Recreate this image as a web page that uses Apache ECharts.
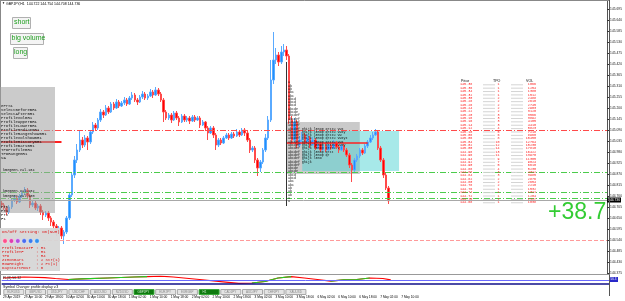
<!DOCTYPE html>
<html>
<head>
<meta charset="utf-8">
<script src="https://cdn.jsdelivr.net/npm/echarts@6/dist/echarts.min.js"></script>
<style>html,body{margin:0;padding:0;background:#fff}#chart{width:625px;height:301px}</style>
</head>
<body>
<div id="chart"></div>
<script>
// GBPJPY H1 chart with market profile objects
let chart = echarts.init(document.getElementById('chart'));

// [open, close, low, high]
const candles = [
  [144.725,144.715,144.700,144.735],[144.715,144.700,144.690,144.725],[144.700,144.680,144.665,144.710],[144.680,144.705,144.670,144.715],
  [144.705,144.740,144.695,144.750],[144.740,144.750,144.730,144.765],[144.750,144.730,144.720,144.760],[144.730,144.760,144.725,144.770],
  [144.760,144.775,144.750,144.785],[144.775,144.790,144.765,144.805],[144.790,144.760,144.750,144.800],[144.760,144.715,144.700,144.770],
  [144.715,144.725,144.705,144.740],[144.725,144.700,144.690,144.735],[144.700,144.710,144.685,144.720],[144.710,144.680,144.665,144.720],
  [144.680,144.665,144.640,144.690],[144.665,144.675,144.655,144.685],[144.675,144.650,144.635,144.685],[144.650,144.630,144.610,144.660],
  [144.630,144.610,144.595,144.640],[144.610,144.590,144.560,144.620],[144.590,144.600,144.575,144.610],[144.600,144.560,144.545,144.610],
  [144.560,144.580,144.520,144.590],[144.580,144.650,144.570,144.660],[144.650,144.765,144.640,144.780],[144.765,144.865,144.755,144.880],
  [144.865,144.940,144.850,144.960],[144.940,144.990,144.925,145.020],[144.990,145.040,144.980,145.090],[145.040,145.015,145.000,145.055],
  [145.015,145.050,145.005,145.065],[145.050,145.030,144.990,145.060],[145.030,145.080,145.020,145.090],[145.080,145.115,145.070,145.130],
  [145.115,145.100,145.085,145.125],[145.100,145.140,145.090,145.150],[145.140,145.180,145.130,145.195],[145.180,145.165,145.150,145.190],
  [145.165,145.200,145.160,145.215],[145.200,145.180,145.170,145.210],[145.180,145.220,145.175,145.230],[145.220,145.200,145.190,145.230],
  [145.200,145.230,145.195,145.245],[145.230,145.210,145.200,145.240],[145.210,145.225,145.205,145.235],[145.225,145.240,145.215,145.255],
  [145.240,145.220,145.210,145.250],[145.220,145.250,145.215,145.260],[145.250,145.265,145.240,145.280],[145.265,145.240,145.230,145.275],
  [145.240,145.230,145.215,145.250],[145.230,145.255,145.225,145.265],[145.255,145.270,145.245,145.285],[145.270,145.250,145.240,145.280],
  [145.250,145.260,145.240,145.270],[145.260,145.280,145.255,145.295],[145.280,145.265,145.250,145.290],[145.265,145.290,145.260,145.305],
  [145.290,145.270,145.260,145.300],[145.270,145.240,145.230,145.280],[145.240,145.180,145.130,145.250],[145.180,145.150,145.140,145.190],
  [145.150,145.165,145.140,145.175],[145.165,145.140,145.125,145.175],[145.140,145.175,145.135,145.185],[145.175,145.150,145.140,145.185],
  [145.150,145.130,145.110,145.160],[145.130,145.160,145.125,145.170],[145.160,145.140,145.130,145.170],[145.140,145.150,145.130,145.160],
  [145.150,145.135,145.120,145.160],[145.135,145.155,145.130,145.165],[145.155,145.140,145.130,145.165],[145.140,145.150,145.135,145.160],
  [145.150,145.115,145.100,145.160],[145.115,145.130,145.110,145.140],[145.130,145.100,145.085,145.135],[145.100,145.075,145.040,145.110],
  [145.075,145.100,145.070,145.110],[145.100,145.065,145.050,145.110],[145.065,145.015,144.990,145.075],[145.015,145.040,145.005,145.050],
  [145.040,145.025,145.015,145.050],[145.025,145.050,145.020,145.060],[145.050,145.065,145.045,145.075],[145.065,145.050,145.040,145.075],
  [145.050,145.070,145.045,145.080],[145.070,145.060,145.050,145.080],[145.060,145.080,145.055,145.095],[145.080,145.065,145.055,145.090],
  [145.065,145.090,145.060,145.100],[145.090,145.075,145.060,145.100],[145.075,145.040,145.030,145.085],[145.040,144.990,144.975,145.050],
  [144.990,145.000,144.980,145.010],[145.000,144.940,144.925,145.010],[144.940,144.900,144.860,144.950],[144.900,144.930,144.880,144.940],
  [144.930,144.990,144.920,145.000],[144.990,145.050,144.980,145.070],[145.050,145.140,145.040,145.160],[145.140,145.340,145.130,145.440],
  [145.340,145.440,145.320,145.580],[145.440,145.465,145.420,145.500],[145.465,145.430,145.410,145.480],[145.430,145.480,145.420,145.510],
  [145.480,145.490,145.460,145.520],[145.490,145.460,145.440,145.510],[145.460,145.140,145.120,145.470],[145.140,145.040,145.020,145.160],
  [145.040,145.130,145.030,145.150],[145.130,145.015,145.000,145.140],[145.015,145.040,145.005,145.060],[145.040,145.065,145.030,145.080],
  [145.065,145.030,145.020,145.075],[145.030,145.050,145.020,145.070],[145.050,145.015,145.000,145.060],[145.015,145.040,145.010,145.055],
  [145.040,145.000,144.990,145.050],[145.000,145.020,144.995,145.035],[145.020,144.990,144.980,145.030],[144.990,145.010,144.985,145.020],
  [145.010,144.990,144.980,145.025],[144.990,145.015,144.985,145.025],[145.015,145.000,144.990,145.025],[145.000,145.025,144.995,145.040],
  [145.025,145.005,144.995,145.035],[145.005,144.990,144.975,145.015],[144.990,145.010,144.985,145.020],[145.010,144.990,144.980,145.020],
  [144.990,144.965,144.955,145.000],[144.965,144.915,144.900,144.975],[144.915,144.890,144.830,144.925],[144.890,144.940,144.880,144.950],
  [144.940,144.960,144.930,144.970],[144.960,144.990,144.950,145.000],[144.990,144.975,144.965,145.000],[144.975,145.010,144.970,145.020],
  [145.010,145.030,145.000,145.040],[145.030,145.050,145.025,145.065],[145.050,145.065,145.040,145.080],[145.065,145.080,145.060,145.095],
  [145.080,145.000,144.990,145.090],[145.000,144.940,144.930,145.010],[144.940,144.865,144.850,144.950],[144.865,144.800,144.790,144.875],
  [144.800,144.736,144.720,144.810]
];

const timeLabels = ['29 Apr 2019','29 Apr 10:00','29 Apr 18:00','30 Apr 02:00','30 Apr 10:00','30 Apr 18:00',
  '1 May 02:00','1 May 10:00','1 May 18:00','2 May 02:00','2 May 10:00','2 May 18:00','3 May 02:00','3 May 10:00',
  '3 May 18:00','6 May 02:00','6 May 10:00','6 May 18:00','7 May 02:00','7 May 10:00'];
const barSlots = 232; // visible bar slots incl. right shift

const redLevel = 145.095;
const greenLevels = [144.875, 144.775, 144.745];
const pinkLevel = 144.540;
const bidPrice = 144.736;
const pocLeft = 145.030;
const pocProfile = 145.025;
const grayBox = [[109, 145.130], [137, 144.870]];
const cyanBox = [[115, 145.085], [152, 144.885]];

// oscillator sub-window
const oscBars = [0,8,16,20,25,30,40,50,55,60,65,75,85,90,95,100,105,110,115,120,125,130,135,140,145,148];
const oscMain = [78,89,83,72,61,67,78,89,94,98,89,61,33,17,22,39,78,94,78,61,44,56,61,78,72,56];
const oscRising = [null,null,null,null,61,67,78,89,94,null,null,null,null,null,22,39,78,94,null,null,44,56,61,78,null,null];
const oscLevels = [55, 15];

// right side profile table
const tablePrices = ['145.38','145.36','145.34','145.32','145.30','145.28','145.26','145.24','145.22','145.20','145.18','145.16',
  '145.14','145.12','145.10','145.08','145.06','145.04','145.02','145.00','144.98','144.96','144.94','144.92',
  '144.90','144.88','144.86','144.84','144.82','144.80','144.78','144.76','144.74','144.72','144.70','144.68'];
const tableTpo = ['1','1','1','1','2','2','2','2','2','3','3','3','3','4','5','6','8','10','12','14','13','11','9','7',
  '5','4','3','3','2','2','2','1','1','1','1','1'];
const tableVol = ['1066','1254','1380','1512','2488','2610','2745','2903','3120','3566','3892','4105','4410','5823','7210','8960',
  '10450','12764','15230','17810','16422','13970','11305','9024','6610','5230','4312','3985','2876','2654','2210','1532',
  '1311','1204','1127','1038'];

const leftNotes = ['ePrS1','SelectBeforeBR1','SelectAfterBR1','ProfileVolBR1','ProfileUpperBR1','ProfileLowerBR1',
  'ProfileMedianBR1','ProfileRangeShowBR1','ProfileVolShowBR1','ProfileHistoryBR1','ProfileBarsBR1','TPOProfileBR1',
  'TPORangeBR1','VA'];
const settings = [['ProfileDataTF',': H1'],['ProfileTF',': H1'],['TPO',': H4'],['ZIMonBars',': 2 Str(1)'],
  ['RowHeight',': 2 Pt(1)'],['DayStartHour',': 0']];
const tpoRows = ['a','ab','ab','abc','abc','abcd','abcd','abcd','abcde','abcde','abcdef','abcdef','abcdef','abcdef',
  'abcdef ghijk lmnop qrstu vwx','abcdef ghijk lmnop qrstu vwxy','abcdef ghijk lmnop qrstu vw',
  'abcdef ghijk lmnop qrstu vwxyz','abcdef ghijk lmnop qrstu vwx','abcdef ghijk lmnop qrstu vwxy',
  'abcdef ghijk lmnop qrstu v','abcdef ghijk lmnop qrst','abcdef ghijk lmnop qr','abcdef ghijk lmno',
  'abcdef ghijk','abcdef','abcde','abcde','abcd','abcd','abc','abc','ab','ab','ab','a','a'];
const symbolButtons = ['EURUSD','GBPUSD','USDJPY','USDCHF','AUDUSD','NZDUSD','GBPJPY','EURJPY','EURGBP','H1',
  'CADJPY','AUDJPY','CHFJPY','XAUUSD'];
const activeButtons = [6, 9];

const cats = Array.from({length: barSlots}, (_, i) => String(i));
const axisX = 609.5;

function txt(x, y, text, size, color, family, align) {
    return {
        type: 'text', x: x, y: y, z: 20, silent: true,
        style: { text: text, fill: color, font: size + 'px ' + (family || '"Liberation Sans"'), verticalAlign: 'top', align: align || 'left' }
    };
}
function rect(x, y, w, h, fill, stroke, z) {
    return { type: 'rect', z: z || 15, silent: true, shape: { x: x, y: y, width: w, height: h },
        style: { fill: fill, stroke: stroke || null, lineWidth: 1 } };
}
function hline(x1, x2, y, color, w) {
    return { type: 'line', z: 15, silent: true, shape: { x1: x1, y1: y, x2: x2, y2: y }, style: { stroke: color, lineWidth: w || 1 } };
}

let g = [];
// frame + title
g.push(hline(0, axisX, 0.5, '#888'));
g.push({ type: 'line', z: 15, silent: true, shape: { x1: 0.5, y1: 0, x2: 0.5, y2: 295 }, style: { stroke: '#888' } });
g.push({ type: 'line', z: 15, silent: true, shape: { x1: axisX, y1: 0, x2: axisX, y2: 296 }, style: { stroke: '#555' } });
g.push(txt(2, 2, '\u25BC', 3, '#000'));
g.push(txt(6, 2, 'GBPJPY,H1  144.722 144.754 144.708 144.736', 3.5, '#000'));
// buttons top left
g.push(rect(12.5, 17.5, 18, 11, '#f4f4f4', '#b0b0b0'));
g.push(txt(14, 19, 'short', 7, '#1e9e1e'));
g.push(rect(10.5, 33.5, 33, 11, '#f4f4f4', '#b0b0b0'));
g.push(txt(11.5, 35, 'big volume', 7, '#1e9e1e'));
g.push(rect(13.5, 47.5, 14, 11, '#f4f4f4', '#b0b0b0'));
g.push(txt(14, 49, 'long', 7, '#1e9e1e'));
// left gray info panel
g.push(rect(0, 87, 55, 126, 'rgba(160,160,160,0.55)'));
leftNotes.forEach((s, k) => g.push(txt(1, 104 + 4 * k, s, 4, '#111', '"Liberation Mono"')));
g.push(txt(3, 168, 'kmegmen.val.104', 3.5, '#111', '"Liberation Mono"'));
g.push(txt(3, 189.5, 'kmegmen.val.102', 3.5, '#111', '"Liberation Mono"'));
g.push(txt(3, 194.5, 'kmegmen.val.100', 3.5, '#111', '"Liberation Mono"'));
['PrS', 'Pr1', 'Pr2', 'F1'].forEach((s, k) => g.push(txt(1, 205 + 4 * k, s, 4, '#111', '"Liberation Mono"')));
// settings panel
g.push(rect(0, 228, 60, 43, 'rgba(214,214,214,0.95)'));
g.push(txt(2, 230, 'On/Off Setting: On(NUM)', 4.2, '#e01010', '"Liberation Mono"'));
['#ff4f8a', '#e040b0', '#b050e0', '#4a6cf0', '#3a7cf0', '#2f8ff0'].forEach((c, k) => {
    g.push({ type: 'circle', z: 16, silent: true, shape: { cx: 5 + 6.4 * k, cy: 241, r: 2.4 }, style: { fill: c, stroke: '#fff', lineWidth: 0.5 } });
});
settings.forEach((s, k) => {
    g.push(txt(2, 245.5 + 4 * k, s[0], 4, '#e01010', '"Liberation Mono"'));
    g.push(txt(36, 245.5 + 4 * k, s[1], 4, '#e01010', '"Liberation Mono"'));
});
// TPO letters of the profile
g.push({ type: 'line', z: 15, silent: true, shape: { x1: 286.5, y1: 62, x2: 286.5, y2: 206 }, style: { stroke: '#333', lineWidth: 1 } });
tpoRows.forEach((s, k) => g.push(txt(288, 81 + 3.3 * k, s, 3.3, '#151515', '"Liberation Mono"')));
// right profile table
g.push(txt(461, 78.5, 'Price', 3.6, '#000'));
g.push(txt(493, 78.5, 'TPO', 3.6, '#000'));
g.push(txt(526, 78.5, 'VOL', 3.6, '#000'));
tablePrices.forEach((p, k) => {
    const y = 83 + 3.37 * k;
    g.push(txt(460, y, p, 3.4, '#ff2020', '"Liberation Mono"'));
    g.push(hline(483, 495, y + 1.8, '#d4d4d4'));
    g.push(txt(499.5, y, tableTpo[k], 3.4, '#ff2020', '"Liberation Mono"', 'right'));
    g.push(hline(511, 523, y + 1.8, '#d4d4d4'));
    g.push(txt(536, y, tableVol[k], 3.4, '#ff2020', '"Liberation Mono"', 'right'));
});
// profit label
g.push(txt(548, 201, '+38.7', 23, '#33cc33'));
// sub-window separators and texts
g.push(hline(0, axisX, 274.5, '#999'));
g.push(txt(3, 276.5, 'FL(8) 56.32', 3.5, '#222'));
g.push(rect(610, 277, 8, 5, '#2828c8', null, 16));
g.push(txt(610.5, 277.8, '56.3', 3, '#fff'));
g.push(txt(3, 285, 'Symbol Changer profile display v.3', 3.6, '#111'));
symbolButtons.forEach((s, k) => {
    const x = 3.3 + 21.7 * k;
    const on = activeButtons.indexOf(k) >= 0;
    g.push(rect(x + 0.5, 289.5, 20, 5, on ? '#0e7a0e' : '#e4e4e4', on ? '#3aa83a' : '#a8a8a8'));
    g.push(txt(x + 4, 290.3, s, 3, on ? '#cfe8cf' : '#888'));
});

let option = {
    backgroundColor: '#fff',
    animation: false,
    grid: [
        { left: 0, right: 625 - axisX, top: 0, height: 273 },
        { left: 0, right: 625 - axisX, top: 276, height: 9 }
    ],
    xAxis: [
        { type: 'category', gridIndex: 0, data: cats, boundaryGap: true, show: false },
        {
            type: 'category', gridIndex: 1, data: cats, boundaryGap: true,
            axisLine: { show: false }, axisTick: { show: false },
            axisLabel: {
                interval: 7, align: 'left', margin: 11, fontSize: 3.2, color: '#000',
                fontFamily: 'Liberation Sans',
                formatter: function (v, i) { return timeLabels[i / 8] || ''; }
            }
        }
    ],
    yAxis: [
        {
            type: 'value', gridIndex: 0, position: 'right', min: 144.375, max: 145.740, interval: 0.055,
            axisLine: { show: true, lineStyle: { color: '#555' } },
            axisTick: { show: true, length: 2, lineStyle: { color: '#333' } },
            splitLine: { show: false },
            axisLabel: {
                fontSize: 3.3, color: '#222', margin: 3, fontFamily: 'Liberation Sans', showMaxLabel: false,
                formatter: function (v) { return v.toFixed(3); }
            }
        },
        {
            type: 'value', gridIndex: 1, position: 'right', min: 0, max: 100,
            axisLine: { show: true, lineStyle: { color: '#555' } },
            axisTick: { show: false }, axisLabel: { show: false }, splitLine: { show: false }
        }
    ],
    graphic: { elements: g },
    series: [
        {
            name: 'GBPJPY', type: 'candlestick', xAxisIndex: 0, yAxisIndex: 0,
            data: candles, barWidth: 2,
            itemStyle: { color: '#1e90ff', color0: '#ff0000', borderColor: '#5aaaff', borderColor0: '#ff4a4a', borderWidth: 1 },
            markArea: {
                silent: true,
                data: [
                    [{ xAxis: grayBox[0][0], yAxis: grayBox[0][1], itemStyle: { color: 'rgba(150,150,150,0.5)' } },
                     { xAxis: grayBox[1][0], yAxis: grayBox[1][1] }],
                    [{ xAxis: cyanBox[0][0], yAxis: cyanBox[0][1], itemStyle: { color: 'rgba(80,212,212,0.5)' } },
                     { xAxis: cyanBox[1][0], yAxis: cyanBox[1][1] }]
                ]
            },
            markLine: {
                silent: true, symbol: 'none', label: { show: false },
                data: [
                    { yAxis: redLevel, lineStyle: { color: '#ff4a4a', type: [6, 2, 1, 2], width: 1 } },
                    { yAxis: greenLevels[0], lineStyle: { color: '#4ccc4c', type: [6, 2, 1, 2], width: 1 } },
                    { yAxis: greenLevels[1], lineStyle: { color: '#4ccc4c', type: [6, 2, 1, 2], width: 1 } },
                    { yAxis: greenLevels[2], lineStyle: { color: '#4ccc4c', type: [6, 2, 1, 2], width: 1 } },
                    { yAxis: pinkLevel, lineStyle: { color: '#ff9a9a', type: [4, 2], width: 1 } },
                    {
                        yAxis: bidPrice, lineStyle: { color: '#a8a8a8', type: 'solid', width: 1 },
                        label: {
                            show: true, position: 'end', distance: 0, formatter: bidPrice.toFixed(3),
                            backgroundColor: '#000', color: '#fff', fontSize: 3.3, padding: [1, 1], fontFamily: 'Liberation Sans'
                        }
                    },
                    [{ coord: [0, pocLeft], lineStyle: { color: '#ff2020', type: 'solid', width: 2 } }, { coord: [23, pocLeft] }],
                    [{ coord: [109, pocProfile], lineStyle: { color: '#ff2020', type: 'solid', width: 1.5 } }, { coord: [140, pocProfile] }]
                ]
            }
        },
        {
            name: 'osc', type: 'line', xAxisIndex: 1, yAxisIndex: 1, symbol: 'none',
            data: oscBars.map((b, k) => [b, oscMain[k]]),
            lineStyle: { color: '#ff0000', width: 1.2 },
            markLine: {
                silent: true, symbol: 'none', label: { show: false },
                data: [
                    { yAxis: oscLevels[0], lineStyle: { color: '#6a6aff', type: 'solid', width: 1 } },
                    { yAxis: oscLevels[1], lineStyle: { color: '#10108a', type: 'solid', width: 1.5 } }
                ]
            }
        },
        {
            name: 'osc up', type: 'line', xAxisIndex: 1, yAxisIndex: 1, symbol: 'none',
            data: oscBars.map((b, k) => [b, oscRising[k]]),
            lineStyle: { color: '#22cc22', width: 1.2 }
        }
    ]
};

chart.setOption(option);

window.addEventListener('resize', function () {
    chart.resize();
});
</script>
</body>
</html>
